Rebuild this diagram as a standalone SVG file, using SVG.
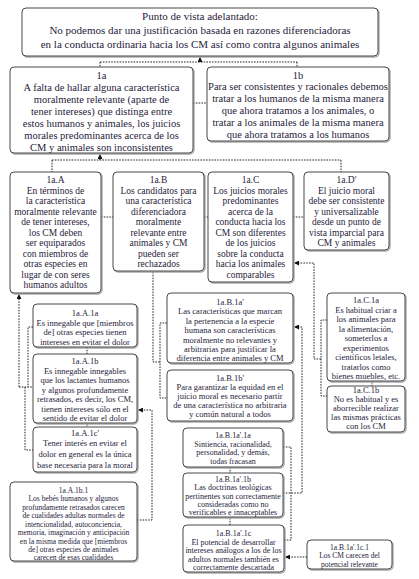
<svg xmlns="http://www.w3.org/2000/svg" width="419" height="579" viewBox="0 0 419 579">
<defs>
<marker id="ah" viewBox="0 0 6 6" refX="6" refY="3" markerWidth="5" markerHeight="5" orient="auto" markerUnits="userSpaceOnUse">
<path d="M0,0 L6,3 L0,6 Z" fill="#111"/>
</marker>
</defs>
<style>
.bx{fill:#fff;stroke:#333;stroke-width:0.9}
.sh{fill:none;stroke:#aaa;stroke-width:1.4}
text{font-family:"Liberation Serif","DejaVu Serif",serif;fill:#1f1b3a;text-anchor:middle}
.f1{font-size:11px}
.f2{font-size:10.5px}
.f3{font-size:9.5px}
.f4{font-size:8.5px}
.f5{font-size:8px}
.f6{font-size:7.5px}
.cn path{fill:none;stroke:#111;stroke-width:0.9;stroke-dasharray:1.6 1.2}
.ar{marker-end:url(#ah)}
</style>
<rect width="419" height="579" fill="#fff"/>
<g class="cn" id="connectors">
<path class="ar" d="M200,62 V57"/>
<path d="M100,62 H297 M100,62 V67 M297,62 V67"/>
<path d="M193,103 H207"/>
<path d="M52,160 H341 M52,160 V172 M341,160 V172"/>
<path class="ar" d="M100,160 V154"/>
<path d="M101,217 H113 M204,217 H208 M293,217 H304"/>
<path class="ar" d="M19,387 V294"/>
<path d="M19,387 H33 M33,327 H28 V387 M25,387 V450 H33"/>
<path d="M87,347 V354 M87,424 V428"/>
<path d="M153,272 V362 H160 M167,323 H160 V398 H167"/>
<path class="ar" d="M137,520 H152 V410 H138"/>
<path class="ar" d="M283,493 H302 V327 H294"/>
<path d="M283,447 H291 V540 H284"/>
<path d="M230,467 V473 M230,518 V525"/>
<path class="ar" d="M307,557 H285"/>
<path class="ar" d="M321,359 H314 V263 H294"/>
<path d="M327,320 H321 V396 H327"/>
<path d="M372,382 V386"/>
</g>
<g id="top">
<rect class="sh" x="23" y="9" width="356" height="48" rx="4"/>
<rect class="bx" x="22" y="8" width="356" height="48" rx="4"/>
<text class="f1"><tspan x="200" y="20">Punto de vista adelantado:</tspan><tspan x="200" y="34">No podemos dar una justificación basada en razones diferenciadoras</tspan><tspan x="200" y="47.5">en la conducta ordinaria hacia los CM así como contra algunos animales</tspan></text>
</g>
<g id="n1a">
<rect class="sh" x="11" y="68" width="183" height="86" rx="4"/>
<rect class="bx" x="10" y="67" width="183" height="86" rx="4"/>
<text class="f2"><tspan x="101.5" y="78.5">1a</tspan><tspan x="101.5" y="90.5">A falta de hallar alguna característica</tspan><tspan x="101.5" y="102.5">moralmente relevante (aparte de</tspan><tspan x="101.5" y="114.5">tener intereses) que distinga entre</tspan><tspan x="101.5" y="126.5">estos humanos y animales, los juicios</tspan><tspan x="101.5" y="138.5">morales predominantes acerca de los</tspan><tspan x="101.5" y="150.5">CM y animales son inconsistentes</tspan></text>
</g>
<g id="n1b">
<rect class="sh" x="208" y="68" width="182" height="74" rx="4"/>
<rect class="bx" x="207" y="67" width="182" height="74" rx="4"/>
<text class="f2"><tspan x="298" y="78.5">1b</tspan><tspan x="298" y="90">Para ser consistentes y racionales debemos</tspan><tspan x="298" y="102">tratar a los humanos de la misma manera</tspan><tspan x="298" y="114">que ahora tratamos a los animales, o</tspan><tspan x="298" y="126">tratar a los animales de la misma manera</tspan><tspan x="298" y="138">que ahora tratamos a los humanos</tspan></text>
</g>
<g id="n1aA">
<rect class="sh" x="11" y="173" width="91" height="121" rx="4"/>
<rect class="bx" x="10" y="172" width="91" height="121" rx="4"/>
<text class="f3"><tspan x="55.5" y="183">1a.A</tspan><tspan x="55.5" y="193.5">En términos de</tspan><tspan x="55.5" y="204">la característica</tspan><tspan x="55.5" y="214.5">moralmente relevante</tspan><tspan x="55.5" y="225">de tener intereses,</tspan><tspan x="55.5" y="235.5">los CM deben</tspan><tspan x="55.5" y="246">ser equiparados</tspan><tspan x="55.5" y="256.5">con miembros de</tspan><tspan x="55.5" y="267">otras especies en</tspan><tspan x="55.5" y="277.5">lugar de con seres</tspan><tspan x="55.5" y="288">humanos adultos</tspan></text>
</g>
<g id="n1aB">
<rect class="sh" x="114" y="173" width="91" height="99" rx="4"/>
<rect class="bx" x="113" y="172" width="91" height="99" rx="4"/>
<text class="f3"><tspan x="158.5" y="183">1a.B</tspan><tspan x="158.5" y="193.5">Los candidatos para</tspan><tspan x="158.5" y="204">una característica</tspan><tspan x="158.5" y="214.5">diferenciadora</tspan><tspan x="158.5" y="225">moralmente</tspan><tspan x="158.5" y="235.5">relevante entre</tspan><tspan x="158.5" y="246">animales y CM</tspan><tspan x="158.5" y="256.5">pueden ser</tspan><tspan x="158.5" y="267">rechazados</tspan></text>
</g>
<g id="n1aC">
<rect class="sh" x="209" y="173" width="85" height="110" rx="4"/>
<rect class="bx" x="208" y="172" width="85" height="110" rx="4"/>
<text class="f3"><tspan x="250.5" y="183">1a.C</tspan><tspan x="250.5" y="193.5">Los juicios morales</tspan><tspan x="250.5" y="204">predominantes</tspan><tspan x="250.5" y="214.5">acerca de la</tspan><tspan x="250.5" y="225">conducta hacia los</tspan><tspan x="250.5" y="235.5">CM son diferentes</tspan><tspan x="250.5" y="246">de los juicios</tspan><tspan x="250.5" y="256.5">sobre la conducta</tspan><tspan x="250.5" y="267">hacia los animales</tspan><tspan x="250.5" y="277.5">comparables</tspan></text>
</g>
<g id="n1aD">
<rect class="sh" x="305" y="173" width="85" height="78" rx="4"/>
<rect class="bx" x="304" y="172" width="85" height="78" rx="4"/>
<text class="f3"><tspan x="346.5" y="183">1a.D'</tspan><tspan x="346.5" y="193.5">El juicio moral</tspan><tspan x="346.5" y="204">debe ser consistente</tspan><tspan x="346.5" y="214.5">y universalizable</tspan><tspan x="346.5" y="225">desde un punto de</tspan><tspan x="346.5" y="235.5">vista imparcial para</tspan><tspan x="346.5" y="246">CM y animales</tspan></text>
</g>
<g id="n1aA1a">
<rect class="sh" x="34" y="305" width="104" height="43" rx="4"/>
<rect class="bx" x="33" y="304" width="104" height="43" rx="4"/>
<text class="f4"><tspan x="85" y="316">1a.A.1a</tspan><tspan x="85" y="325.5">Es innegable que [miembros</tspan><tspan x="85" y="335">de] otras especies tienen</tspan><tspan x="85" y="344.5">intereses en evitar el dolor</tspan></text>
</g>
<g id="n1aA1b">
<rect class="sh" x="34" y="355" width="104" height="69" rx="4"/>
<rect class="bx" x="33" y="354" width="104" height="69" rx="4"/>
<text class="f4"><tspan x="85" y="364">1a.A.1b</tspan><tspan x="85" y="373.5">Es innegable innegables</tspan><tspan x="85" y="383">que los lactantes humanos</tspan><tspan x="85" y="392.5">y algunos profundamente</tspan><tspan x="85" y="402">retrasados, es decir, los CM,</tspan><tspan x="85" y="411.5">tienen intereses sólo en el</tspan><tspan x="85" y="421">sentido de evitar el dolor</tspan></text>
</g>
<g id="n1aA1c">
<rect class="sh" x="34" y="428" width="104" height="45" rx="4"/>
<rect class="bx" x="33" y="427" width="104" height="45" rx="4"/>
<text class="f4"><tspan x="85" y="436">1a.A.1c'</tspan><tspan x="85" y="446">Tener interés en evitar el</tspan><tspan x="85" y="457">dolor en general es la única</tspan><tspan x="85" y="468">base necesaria para la moral</tspan></text>
</g>
<g id="n1aA1b1">
<rect class="sh" x="11" y="483" width="127" height="79" rx="4"/>
<rect class="bx" x="10" y="482" width="127" height="79" rx="4"/>
<text class="f6"><tspan x="73.5" y="492.5">1a.A.1b.1</tspan><tspan x="73.5" y="501">Los bebés humanos y algunos</tspan><tspan x="73.5" y="509.5">profundamente retrasados carecen</tspan><tspan x="73.5" y="518">de cualidades adultas normales de</tspan><tspan x="73.5" y="526.5">intencionalidad, autoconciencia,</tspan><tspan x="73.5" y="535">memoria, imaginación y anticipación</tspan><tspan x="73.5" y="543.5">en la misma medida que [miembros</tspan><tspan x="73.5" y="552">de] otras especies de animales</tspan><tspan x="73.5" y="560">carecen de esas cualidades</tspan></text>
</g>
<g id="n1aB1a">
<rect class="sh" x="168" y="294" width="126" height="70" rx="4"/>
<rect class="bx" x="167" y="293" width="126" height="70" rx="4"/>
<text class="f4"><tspan x="230" y="304.5">1a.B.1a'</tspan><tspan x="230" y="314">Las características que marcan</tspan><tspan x="230" y="323.5">la pertenencia a la especie</tspan><tspan x="230" y="333">humana son características</tspan><tspan x="230" y="342.5">moralmente no relevantes y</tspan><tspan x="230" y="352">arbitrarias para justificar la</tspan><tspan x="230" y="361">diferencia entre animales y CM</tspan></text>
</g>
<g id="n1aB1b">
<rect class="sh" x="168" y="371" width="126" height="51" rx="4"/>
<rect class="bx" x="167" y="370" width="126" height="51" rx="4"/>
<text class="f4"><tspan x="230" y="381">1a.B.1b'</tspan><tspan x="230" y="390">Para garantizar la equidad en el</tspan><tspan x="230" y="399">juicio moral es necesario partir</tspan><tspan x="230" y="408">de una característica no arbitraria</tspan><tspan x="230" y="417">y común natural a todos</tspan></text>
</g>
<g id="n1aC1a">
<rect class="sh" x="328" y="294" width="78" height="88" rx="4"/>
<rect class="bx" x="327" y="293" width="78" height="88" rx="4"/>
<text class="f4"><tspan x="366" y="303">1a.C.1a</tspan><tspan x="366" y="312.5">Es habitual criar a</tspan><tspan x="366" y="322">los animales para</tspan><tspan x="366" y="331.5">la alimentación,</tspan><tspan x="366" y="341">someterlos a</tspan><tspan x="366" y="350.5">experimentos</tspan><tspan x="366" y="360">científicos letales,</tspan><tspan x="366" y="369.5">tratarlos como</tspan><tspan x="366" y="379">bienes muebles, etc.</tspan></text>
</g>
<g id="n1aC1b">
<rect class="sh" x="328" y="387" width="78" height="46" rx="4"/>
<rect class="bx" x="327" y="386" width="78" height="46" rx="4"/>
<text class="f4"><tspan x="366" y="393">1a.C.1b</tspan><tspan x="366" y="402">No es habitual y es</tspan><tspan x="366" y="411">aborrecible realizar</tspan><tspan x="366" y="420">las mismas prácticas</tspan><tspan x="366" y="429">con los CM</tspan></text>
</g>
<g id="n1aB1a1a">
<rect class="sh" x="184" y="429" width="100" height="39" rx="4"/>
<rect class="bx" x="183" y="428" width="100" height="39" rx="4"/>
<text class="f5"><tspan x="233" y="438">1a.B.1a'.1a</tspan><tspan x="233" y="446.5">Sintiencia, racionalidad,</tspan><tspan x="233" y="455">personalidad, y demás,</tspan><tspan x="233" y="463.5">todas fracasan</tspan></text>
</g>
<g id="n1aB1a1b">
<rect class="sh" x="184" y="474" width="100" height="44" rx="4"/>
<rect class="bx" x="183" y="473" width="100" height="44" rx="4"/>
<text class="f5"><tspan x="233" y="481.5">1a.B.1a'.1b</tspan><tspan x="233" y="490">Las doctrinas teológicas</tspan><tspan x="233" y="498.5">pertinentes son correctamente</tspan><tspan x="233" y="507">consideradas como no</tspan><tspan x="233" y="515">verificables e innaceptables</tspan></text>
</g>
<g id="n1aB1a1c">
<rect class="sh" x="184" y="526" width="101" height="47" rx="4"/>
<rect class="bx" x="183" y="525" width="101" height="47" rx="4"/>
<text class="f5"><tspan x="233.5" y="536">1a.B.1a'.1c</tspan><tspan x="233.5" y="544.5">El potencial de desarrollar</tspan><tspan x="233.5" y="553">intereses análogos a los de los</tspan><tspan x="233.5" y="561.5">adultos normales también es</tspan><tspan x="233.5" y="570">correctamente descartada</tspan></text>
</g>
<g id="n1aB1a1c1">
<rect class="sh" x="308" y="541" width="85" height="29" rx="4"/>
<rect class="bx" x="307" y="540" width="85" height="29" rx="4"/>
<text class="f6"><tspan x="349.5" y="549.5">1a.B.1a'.1c.1</tspan><tspan x="349.5" y="558">Los CM carecen del</tspan><tspan x="349.5" y="566.5">potencial relevante</tspan></text>
</g>
</svg>
